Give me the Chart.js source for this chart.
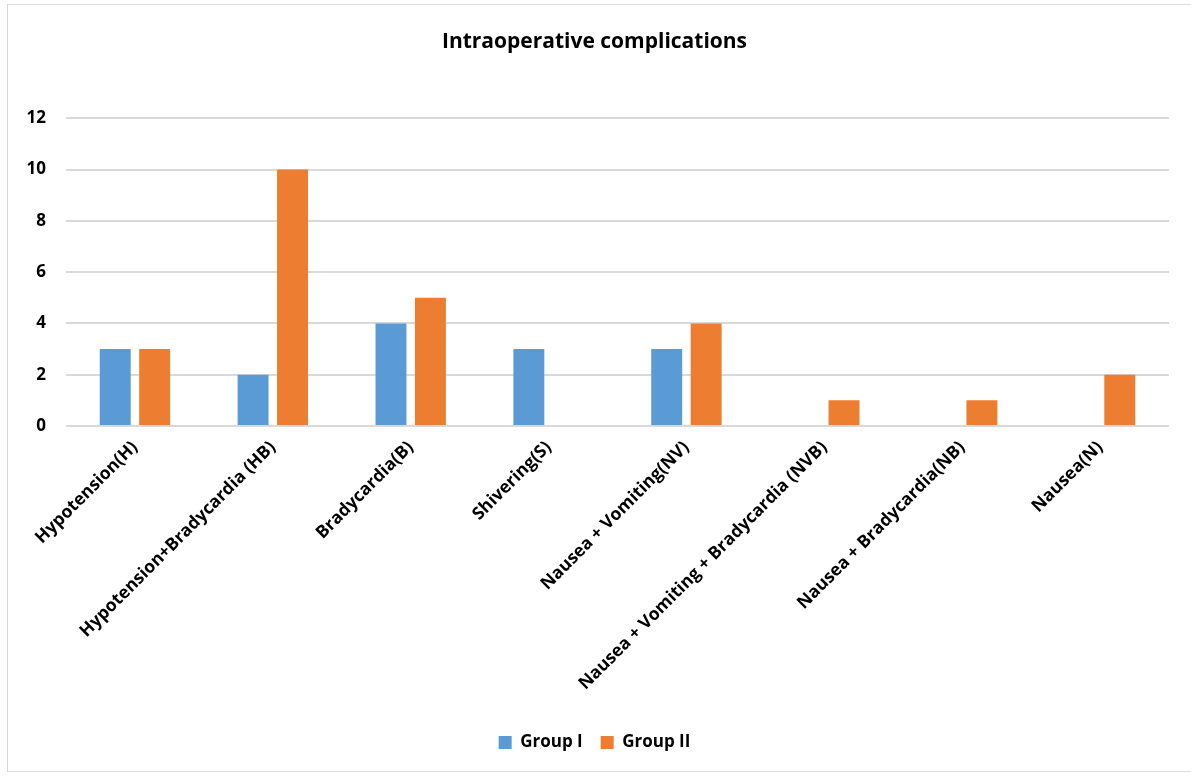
<!DOCTYPE html>
<html>
<head>
<meta charset="utf-8">
<script src="https://cdn.jsdelivr.net/npm/chart.js@4"></script>
<style>
  html, body { margin: 0; padding: 0; background: #fff; }
  #wrap { position: relative; width: 1191px; height: 776px; }
  #frame { position: absolute; left: 7px; top: 4px; width: 1190px; height: 768px; border: 1px solid #d9d9d9; box-sizing: border-box; }
  canvas { position: absolute; left: 0; top: 0; }
</style>
</head>
<body>
<div id="wrap">
  <div id="frame"></div>
  <canvas id="myChart" width="1191" height="776"></canvas>
</div>
<script>
const categories = [
    "Hypotension(H)",
    "Hypotension+Bradycardia (HB)",
    "Bradycardia(B)",
    "Shivering(S)",
    "Nausea + Vomiting(NV)",
    "Nausea + Vomiting + Bradycardia (NVB)",
    "Nausea + Bradycardia(NB)",
    "Nausea(N)"
];
const groupOne = [3, 2, 4, 3, 3, null, null, null];
const groupTwo = [3, 10, 5, null, 4, 1, 1, 2];
const seriesNames = ["Group I", "Group II"];
const yTicks = [0, 2, 4, 6, 8, 10, 12];

const fontFamily = "'Open Sans', 'Liberation Sans', sans-serif";

function createBarChart() {
    const ctx = document.getElementById('myChart').getContext('2d');
    new Chart(ctx, {
        type: 'bar',
        data: {
            labels: categories,
            datasets: [{
                label: seriesNames[0],
                data: groupOne,
                backgroundColor: '#5b9bd5'
            }, {
                label: seriesNames[1],
                data: groupTwo,
                backgroundColor: '#ed7d31'
            }]
        },
        options: {
            responsive: false,
            animation: false,
            categoryPercentage: 0.572,
            barPercentage: 0.785,
            layout: { padding: { left: 20, right: 22, top: 20, bottom: 15 } },
            plugins: {
                title: {
                    display: true,
                    text: 'Intraoperative complications',
                    color: '#000',
                    font: { family: fontFamily, size: 21, weight: 'bold' },
                    padding: { top: 9, bottom: 64 }
                },
                legend: {
                    position: 'bottom',
                    labels: {
                        color: '#000',
                        boxWidth: 13,
                        boxHeight: 13,
                        padding: 18,
                        font: { family: fontFamily, size: 17, weight: 'bold' }
                    }
                },
                tooltip: { enabled: false }
            },
            scales: {
                x: {
                    grid: { display: false },
                    border: { display: false },
                    ticks: {
                        color: '#000',
                        minRotation: 45,
                        maxRotation: 45,
                        font: { family: fontFamily, size: 17.5, weight: 'bold' }
                    },
                    afterFit: scale => { scale.height = 290; }
                },
                y: {
                    min: 0,
                    max: 12,
                    afterBuildTicks: scale => { scale.ticks = yTicks.map(v => ({ value: v })); },
                    grid: { color: '#d9d9d9', lineWidth: 2, drawTicks: false },
                    border: { display: false },
                    ticks: {
                        color: '#000',
                        padding: 20,
                        font: { family: fontFamily, size: 17, weight: 'bold' }
                    },
                    afterFit: scale => { scale.width = 46; }
                }
            }
        }
    });
}

createBarChart();
</script>
</body>
</html>
